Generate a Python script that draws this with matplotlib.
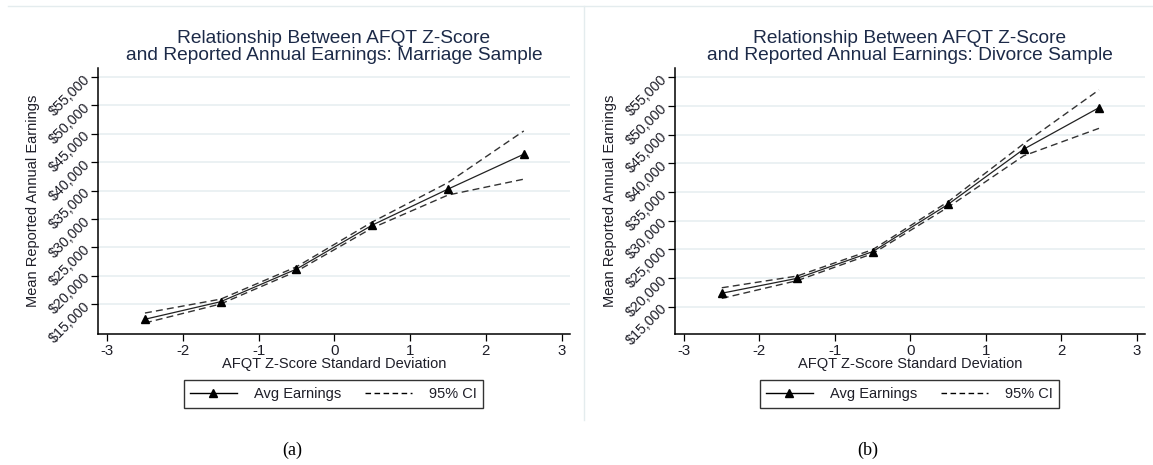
import matplotlib
matplotlib.use("Agg")
import matplotlib.pyplot as plt
from matplotlib.lines import Line2D

# ---------------- data ----------------
z_score = [-2.5, -1.5, -0.5, 0.5, 1.5, 2.5]

marriage_mean = [12300, 15400, 21150, 28900, 35250, 41400]
marriage_lo = [11650, 15000, 20750, 28400, 34200, 37000]
marriage_hi = [13400, 15850, 21550, 29450, 36400, 45500]

divorce_mean = [17350, 19950, 24600, 32850, 42450, 49700]
divorce_lo = [16450, 19550, 24250, 32350, 41300, 46100]
divorce_hi = [18300, 20350, 24950, 33300, 43400, 52800]

y_ticks = [15000, 20000, 25000, 30000, 35000, 40000, 45000, 50000, 55000]
y_tick_labels = ["$15,000", "$20,000", "$25,000", "$30,000", "$35,000",
                 "$40,000", "$45,000", "$50,000", "$55,000"]
x_ticks = [-3, -2, -1, 0, 1, 2, 3]
x_tick_labels = ["-3", "-2", "-1", "0", "1", "2", "3"]

titles = ["Relationship Between AFQT Z-Score\nand Reported Annual Earnings: Marriage Sample",
          "Relationship Between AFQT Z-Score\nand Reported Annual Earnings: Divorce Sample"]
captions = ["(a)", "(b)"]
x_label = "AFQT Z-Score Standard Deviation"
y_label = "Mean Reported Annual Earnings"
legend_labels = ["Avg Earnings", "95% CI"]

# ---------------- layout ----------------
W, H = 1153, 465
fig = plt.figure(figsize=(W / 100, H / 100), dpi=100)
plt.rcParams['font.family'] = ['Liberation Sans', 'DejaVu Sans']

title_col = '#1c2a48'
text_col = '#1e1e28'
grid_col = '#e6eef0'

panels = [
    dict(left=98, right=570, mean=marriage_mean, lo=marriage_lo, hi=marriage_hi,
         ylim=(9700, 56600), cx=333.5, cap_x=292),
    dict(left=675, right=1145, mean=divorce_mean, lo=divorce_lo, hi=divorce_hi,
         ylim=(10240, 56620), cx=909.5, cap_x=868),
]
ax_top, ax_bot = 68, 334

for i, p in enumerate(panels):
    ax = fig.add_axes([p['left'] / W, 1 - ax_bot / H,
                       (p['right'] - p['left']) / W, (ax_bot - ax_top) / H])
    ax.set_xlim(-3.12, 3.11)
    ax.set_ylim(*p['ylim'])
    for s in ['top', 'right']:
        ax.spines[s].set_visible(False)
    for s in ['left', 'bottom']:
        ax.spines[s].set_linewidth(1.1)
        ax.spines[s].set_color('black')
    ax.set_yticks(y_ticks)
    ax.set_yticklabels(y_tick_labels, rotation=45, ha='right', va='center',
                       rotation_mode='anchor', fontsize=10.3, color=text_col)
    ax.set_xticks(x_ticks)
    ax.set_xticklabels(x_tick_labels, fontsize=10.8, color=text_col)
    ax.tick_params(axis='both', length=5, width=0.9, color='black', pad=2)
    ax.tick_params(axis='x', pad=2.5)
    ax.yaxis.grid(True, color=grid_col, linewidth=1.1)
    ax.set_axisbelow(True)

    ax.plot(z_score, p['hi'], color='#333333', lw=1.0, ls=(0, (5, 3)))
    ax.plot(z_score, p['lo'], color='#333333', lw=1.0, ls=(0, (5, 3)))
    ax.plot(z_score, p['mean'], color='#222222', lw=0.9, marker='^',
            markersize=5.5, markerfacecolor='black', markeredgecolor='black')

    ax.set_xlabel(x_label, fontsize=10.5, color=text_col, labelpad=-1)
    ax.set_ylabel(y_label, fontsize=10.5, color=text_col, labelpad=5)
    ax.set_title(titles[i], fontsize=13.8, color=title_col, linespacing=1.0, pad=6)

    handles = [Line2D([], [], color='black', lw=1.0, marker='^', markersize=5.5),
               Line2D([], [], color='black', lw=1.0, ls=(0, (4, 2.5)))]
    leg = ax.legend(handles, legend_labels, loc='center',
                    bbox_to_anchor=(p['cx'] / W, 1 - 394 / H),
                    bbox_transform=fig.transFigure, ncol=2, fontsize=10.5,
                    frameon=True, fancybox=False, edgecolor='black',
                    handlelength=3.2, columnspacing=1.6, handletextpad=1.2,
                    borderpad=0.45, labelcolor=text_col)
    leg.get_frame().set_linewidth(1.0)

    fig.text(p['cap_x'] / W, 1 - 450 / H, captions[i], fontsize=13,
             family='Liberation Serif', ha='center', va='center', color='black')

# faint graph-region borders
fig.add_artist(Line2D([8 / W, 1], [1 - 6 / H, 1 - 6 / H], color='#e4ecee', lw=1.0))
fig.add_artist(Line2D([584 / W, 584 / W], [1 - 6 / H, 1 - 420 / H], color='#e4ecee', lw=1.0))

fig.savefig('out.png', dpi=100, facecolor='white')
